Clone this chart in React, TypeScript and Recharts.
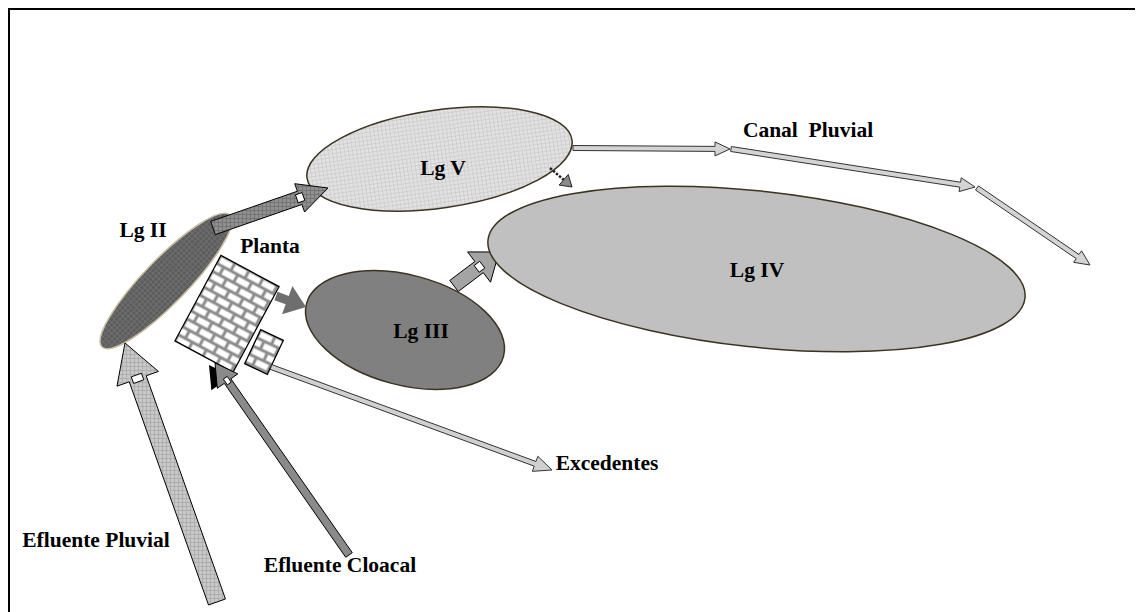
import React from 'react';
import { ScatterChart, Scatter, XAxis, YAxis, ReferenceLine } from 'recharts';

// chart area sits at page (10,10): domains are page pixels so the diagram reads 1:1
const W = 1131;
const H = 602;

// lagoons: major axis end points + half width of the minor axis
const lagoonNames = ['Lg IV', 'Lg V', 'Lg III', 'Lg II'];
const lagoonFrom = [[488, 240], [307, 178], [306.5, 303.6], [102, 347]];
const lagoonTo = [[1025, 298], [572, 140], [503.5, 356.4], [230, 215]];
const lagoonMinor = [78, 49, 55, 22];

// plant blocks (brick): top edge middle -> bottom edge middle, block width
const blockNames = ['Planta', 'Planta-2'];
const blockFrom = [[250, 271], [272, 335]];
const blockTo = [[204, 356.5], [256, 369]];
const blockWidth = [66, 25];

// flows (block arrows): tail -> tip
const flowNames = [
  'Lg III-Lg IV', 'Efluente Pluvial', 'Efluente Cloacal', 'Excedentes', 'Lg II-Lg V',
  'Planta-Lg III', 'Lg V-Lg IV', 'Canal 1', 'Canal 2', 'Canal 3',
];
const flowFrom = [
  [454, 286], [217, 602], [349, 555], [271, 367], [213, 228],
  [276, 296], [550, 168], [573, 148], [731, 149], [977, 188],
];
const flowTo = [
  [499, 252], [125, 343], [215, 363], [552, 470], [328, 188],
  [306, 307], [572, 187], [730, 149], [975, 187], [1090, 265],
];

// text labels
const labelText = [
  'Lg II', 'Planta', 'Lg V', 'Lg III', 'Lg IV', 'Canal  Pluvial',
  'Excedentes', 'Efluente Pluvial', 'Efluente Cloacal',
];
const labelX = [143, 270, 443, 421, 757, 808, 607, 96, 340];
const labelY = [230, 246, 168, 331, 270, 130, 463, 540, 565];

const labels = labelText.map((text, i) => ({ x: labelX[i], y: labelY[i], text }));

type Look = { fill: string; grid?: string; stroke: string; sw?: number; hw?: number; hl?: number; notch?: boolean; dashed?: boolean; shadow?: boolean };

const lagoonLook: Record<string, Look> = {
  'Lg IV': { fill: '#c0c0c0', stroke: '#3a3320' },
  'Lg V': { fill: '#e2e2e2', grid: '#cccccc', stroke: '#3a3320' },
  'Lg III': { fill: '#808080', stroke: '#3a3320' },
  'Lg II': { fill: '#5c5c5c', grid: '#727272', stroke: '#c9c0a0' },
};

const flowLook: Record<string, Look> = {
  'Lg III-Lg IV': { fill: '#a4a4a4', stroke: '#000', sw: 14, hw: 38, hl: 25, notch: true },
  'Efluente Pluvial': { fill: '#c8c8c8', grid: '#a9a9a9', stroke: '#000', sw: 18, hw: 44, hl: 38, notch: true },
  'Efluente Cloacal': { fill: '#8a8a8a', stroke: '#000', sw: 8, hw: 25, hl: 22, notch: true, shadow: true },
  'Excedentes': { fill: '#d0d0d0', stroke: '#333', sw: 5, hw: 16, hl: 18 },
  'Lg II-Lg V': { fill: '#909090', grid: '#707070', stroke: '#000', sw: 14, hw: 30, hl: 30, notch: true },
  'Planta-Lg III': { fill: '#6e6e6e', stroke: 'none', sw: 9, hw: 30, hl: 20 },
  'Lg V-Lg IV': { fill: '#8a8a8a', stroke: '#000', sw: 3, hw: 14, hl: 11, dashed: true },
  'Canal 1': { fill: '#d4d4d4', stroke: '#333', sw: 5, hw: 14, hl: 15 },
  'Canal 2': { fill: '#d4d4d4', stroke: '#333', sw: 5, hw: 14, hl: 15 },
  'Canal 3': { fill: '#d4d4d4', stroke: '#333', sw: 5, hw: 14, hl: 15 },
};

const FONT = "'Liberation Serif', 'Times New Roman', serif";

function gridPattern(id: string, base: string, line: string) {
  return (
    <pattern id={id} width={4} height={4} patternUnits="userSpaceOnUse">
      <rect width={4} height={4} fill={base} />
      <path d="M0 0.5 H4 M0.5 0 V4" stroke={line} strokeWidth={0.8} />
    </pattern>
  );
}

function fillOf(id: string, look: Look) {
  return look.grid ? `url(#${id})` : look.fill;
}

function ellipseShape(name: string, minor: number) {
  const look = lagoonLook[name];
  const id = `pat-${name.replace(/\s/g, '')}`;
  return (p: any) => {
    const { x1, y1, x2, y2 } = p;
    const cx = (x1 + x2) / 2;
    const cy = (y1 + y2) / 2;
    const a = Math.hypot(x2 - x1, y2 - y1) / 2;
    const ang = (Math.atan2(y2 - y1, x2 - x1) * 180) / Math.PI;
    return (
      <g>
        {look.grid && <defs>{gridPattern(id, look.fill, look.grid)}</defs>}
        <ellipse cx={cx} cy={cy} rx={a} ry={minor} transform={`rotate(${ang} ${cx} ${cy})`}
          fill={fillOf(id, look)} stroke={look.stroke} strokeWidth={1.5} />
      </g>
    );
  };
}

function blockShape(name: string, width: number) {
  const id = `brick-${name.replace(/\W/g, '')}`;
  return (p: any) => {
    const { x1, y1, x2, y2 } = p;
    const cx = (x1 + x2) / 2;
    const cy = (y1 + y2) / 2;
    const len = Math.hypot(x2 - x1, y2 - y1);
    const rot = (Math.atan2(y2 - y1, x2 - x1) * 180) / Math.PI - 90;
    return (
      <g>
        <defs>
          <pattern id={id} x={cx - width / 2} y={cy - len / 2} width={16} height={18}
            patternUnits="userSpaceOnUse">
            <rect width={16} height={18} fill="#8c8c8c" />
            <rect x={1.5} y={1.5} width={13} height={6} fill="#fff" />
            <rect x={-6.5} y={10.5} width={13} height={6} fill="#fff" />
            <rect x={9.5} y={10.5} width={13} height={6} fill="#fff" />
          </pattern>
        </defs>
        <g transform={`rotate(${rot} ${cx} ${cy})`}>
          <rect x={cx - width / 2} y={cy - len / 2} width={width} height={len}
            fill={`url(#${id})`} stroke="#000" strokeWidth={1.3} />
        </g>
      </g>
    );
  };
}

function arrowShape(name: string) {
  const look = flowLook[name];
  const id = `pat-${name.replace(/\W/g, '')}`;
  const sw = look.sw ?? 6;
  const hw = look.hw ?? 14;
  const hl = look.hl ?? 14;
  return (p: any) => {
    const { x1, y1, x2, y2 } = p;
    const L = Math.hypot(x2 - x1, y2 - y1);
    const ux = (x2 - x1) / L;
    const uy = (y2 - y1) / L;
    const nx = -uy;
    const ny = ux;
    const bx = x2 - ux * hl;
    const by = y2 - uy * hl;
    const pt = (x: number, y: number, k: number) => `${x + nx * k},${y + ny * k}`;
    const head = [pt(bx, by, hw / 2), `${x2},${y2}`, pt(bx, by, -hw / 2)];
    const body = [pt(x1, y1, sw / 2), pt(bx, by, sw / 2), head[0], head[1], head[2], pt(bx, by, -sw / 2), pt(x1, y1, -sw / 2)];
    const nw = sw * 0.6;
    const notch = [
      pt(bx - ux * 3, by - uy * 3, nw / 2), pt(bx + ux * 4, by + uy * 4, nw / 2),
      pt(bx + ux * 4, by + uy * 4, -nw / 2), pt(bx - ux * 3, by - uy * 3, -nw / 2),
    ];
    return (
      <g>
        {look.grid && <defs>{gridPattern(id, look.fill, look.grid)}</defs>}
        {look.shadow && (
          <polygon points={head.join(' ')} transform="translate(-6,2)" fill="#000" />
        )}
        {look.dashed ? (
          <>
            <line x1={x1} y1={y1} x2={bx} y2={by} stroke="#222" strokeWidth={2.5} strokeDasharray="2.5 1.5" />
            <polygon points={head.join(' ')} fill={look.fill} stroke={look.stroke} strokeWidth={0.8} />
          </>
        ) : (
          <polygon points={body.join(' ')} fill={fillOf(id, look)} stroke={look.stroke}
            strokeWidth={1} strokeLinejoin="miter" />
        )}
        {look.notch && <polygon points={notch.join(' ')} fill="#fff" stroke="#000" strokeWidth={1} />}
      </g>
    );
  };
}

const seg = (a: number[], b: number[]) => [{ x: a[0], y: a[1] }, { x: b[0], y: b[1] }];

function LabelMark(props: any) {
  const { cx, cy, payload } = props;
  return (
    <text x={cx} y={cy} textAnchor="middle" dominantBaseline="central" fontFamily={FONT}
      fontWeight="bold" fontSize={21.5} fill="#000" style={{ whiteSpace: 'pre' }}>
      {payload.text}
    </text>
  );
}

export default function App() {
  const under = ['Lg III-Lg IV'];
  return (
    <div style={{ width: W, height: H, border: '2px solid #000', borderBottom: 'none', background: '#fff' }}>
      <ScatterChart width={W} height={H} margin={{ top: 0, right: 0, bottom: 0, left: 0 }}>
        <XAxis type="number" dataKey="x" domain={[10, 10 + W]} hide allowDataOverflow />
        <YAxis type="number" dataKey="y" domain={[10, 10 + H]} reversed hide allowDataOverflow />
        {flowNames.map((n, i) => under.includes(n) ? (
          <ReferenceLine key={`u-${n}`} segment={seg(flowFrom[i], flowTo[i])} shape={arrowShape(n)} ifOverflow="visible" />
        ) : null)}
        {lagoonNames.map((n, i) => (
          <ReferenceLine key={n} segment={seg(lagoonFrom[i], lagoonTo[i])}
            shape={ellipseShape(n, lagoonMinor[i])} ifOverflow="visible" />
        ))}
        {blockNames.map((n, i) => (
          <ReferenceLine key={n} segment={seg(blockFrom[i], blockTo[i])}
            shape={blockShape(n, blockWidth[i])} ifOverflow="visible" />
        ))}
        {flowNames.map((n, i) => under.includes(n) ? null : (
          <ReferenceLine key={n} segment={seg(flowFrom[i], flowTo[i])} shape={arrowShape(n)} ifOverflow="visible" />
        ))}
        <Scatter data={labels} shape={<LabelMark />} isAnimationActive={false} />
      </ScatterChart>
    </div>
  );
}
